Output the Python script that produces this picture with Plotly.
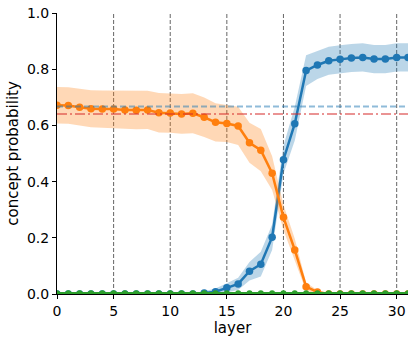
import plotly.graph_objects as go

layers = list(range(32))

blue_mean = [0.0, 0.0, 0.0, 0.0, 0.0, 0.0, 0.0, 0.0, 0.0, 0.0, 0.0, 0.0, 0.0,
             0.004, 0.008, 0.022, 0.036, 0.081, 0.106, 0.202, 0.478, 0.606,
             0.795, 0.815, 0.830, 0.835, 0.840, 0.842, 0.836, 0.836, 0.842, 0.842]
blue_std = [0.0, 0.0, 0.0, 0.0, 0.0, 0.0, 0.0, 0.0, 0.0, 0.0, 0.0, 0.0, 0.001,
            0.006, 0.012, 0.016, 0.022, 0.033, 0.044, 0.045, 0.050, 0.060,
            0.055, 0.050, 0.050, 0.050, 0.050, 0.050, 0.050, 0.050, 0.050, 0.050]

orange_mean = [0.672, 0.671, 0.665, 0.659, 0.658, 0.658, 0.655, 0.654, 0.655, 0.645,
               0.644, 0.641, 0.643, 0.629, 0.611, 0.607, 0.598, 0.538, 0.512, 0.430,
               0.273, 0.157, 0.026, 0.007, 0.0, 0.0, 0.0, 0.0, 0.0, 0.0, 0.0, 0.0]
orange_std = [0.065, 0.065, 0.065, 0.066, 0.066, 0.066, 0.067, 0.068, 0.068, 0.070,
              0.070, 0.071, 0.071, 0.070, 0.068, 0.066, 0.068, 0.071, 0.075, 0.060,
              0.045, 0.040, 0.015, 0.006, 0.001, 0.0, 0.0, 0.0, 0.0, 0.0, 0.0, 0.0]

green_mean = [0.003] * 32

ref_blue = 0.667
ref_red = 0.641
vlines = [5, 10, 15, 20, 25, 30]

fig = go.Figure()

def add_series(mean, std, color, fillcolor, msize):
    upper = [m + s for m, s in zip(mean, std)]
    lower = [max(m - s, 0) for m, s in zip(mean, std)]
    fig.add_trace(go.Scatter(x=layers + layers[::-1], y=upper + lower[::-1],
                             fill="toself", fillcolor=fillcolor,
                             line=dict(width=0), hoverinfo="skip", showlegend=False))
    fig.add_trace(go.Scatter(x=layers, y=mean, mode="lines+markers",
                             line=dict(color=color, width=2.5),
                             marker=dict(color=color, size=msize),
                             showlegend=False))

add_series(blue_mean, blue_std, "#1f77b4", "rgba(31,119,180,0.3)", 7.5)
add_series(orange_mean, orange_std, "#ff7f0e", "rgba(255,127,14,0.3)", 7.5)
fig.add_trace(go.Scatter(x=layers, y=green_mean, mode="lines+markers",
                         line=dict(color="#2ca02c", width=2.5),
                         marker=dict(color="#2ca02c", size=6), showlegend=False))

for v in vlines:
    fig.add_shape(type="line", x0=v, x1=v, y0=0, y1=1, xref="x", yref="y",
                  line=dict(color="#666666", width=1, dash="4px,2px"), layer="below")

fig.add_shape(type="line", x0=0, x1=1, xref="paper", y0=ref_blue, y1=ref_blue, yref="y",
              line=dict(color="rgba(31,119,180,0.5)", width=2, dash="6px,3px"))
fig.add_shape(type="line", x0=0, x1=1, xref="paper", y0=ref_red, y1=ref_red, yref="y",
              line=dict(color="rgba(214,39,40,0.5)", width=2, dash="10px,3px,2px,3px"))

fig.update_layout(
    width=415, height=343,
    margin=dict(l=57, r=7, t=13, b=49),
    paper_bgcolor="white", plot_bgcolor="white",
    font=dict(family="DejaVu Sans", size=14, color="black"),
    xaxis=dict(range=[0, 31], tickvals=[0, 5, 10, 15, 20, 25, 30], automargin=False,
               showgrid=False, zeroline=False, showline=True, linecolor="black",
               linewidth=1, ticks="outside", ticklen=4, tickcolor="black",
               title=dict(text="layer", font=dict(size=15), standoff=3)),
    yaxis=dict(range=[0, 1], tickvals=[0, 0.2, 0.4, 0.6, 0.8, 1.0], tickformat=".1f",
               automargin=False,
               showgrid=False, zeroline=False, showline=True, linecolor="black",
               linewidth=1, ticks="outside", ticklen=4, tickcolor="black",
               title=dict(text="concept probability", font=dict(size=15), standoff=4)),
)

fig.write_html("out.html", config={"displayModeBar": False},
               post_script="document.body.style.margin='0';")
